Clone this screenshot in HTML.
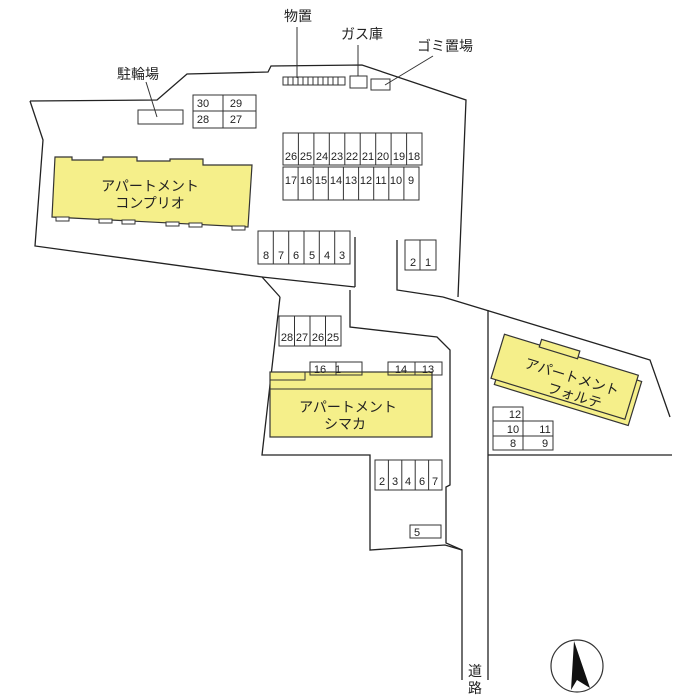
<!DOCTYPE html>
<html><head><meta charset="utf-8"><style>
html,body{margin:0;padding:0;background:#fff}
svg{display:block}
text{font-family:"Liberation Sans","Noto Sans CJK JP",sans-serif;fill:#222}
.n{font-size:11px;text-anchor:middle}
.l{font-size:14px;text-anchor:middle}
</style></head><body>
<svg width="700" height="700" viewBox="0 0 700 700" xmlns="http://www.w3.org/2000/svg">
<g fill="none" stroke="#222" stroke-width="1.3">
<!-- upper lot -->
<polyline points="355,287 355,237"/>
<polyline points="397,240 397,290 443,297"/>
<polyline points="30,101 157,100 187,74 268,72 271,66 362,65 466,100 458,297"/>
<polyline points="30,101 43,140 35,246 262,277 280,297"/>
<polyline points="262,277 355,287"/>
<!-- middle lot -->
<polyline points="280,297 262,455 370,455 370,550 445,545 462,550 462,680"/>
<polyline points="350,290 350,327 437,337 450,350 450,485 446,487 446,543 462,550"/>
<!-- right -->
<polyline points="443,297 650,360 670,417"/>
<line x1="488" y1="310" x2="488" y2="680"/>
<line x1="488" y1="455" x2="672" y2="455"/>
</g>
<!-- buildings -->
<polygon points="55,157 72,157 72,160 103,160 103,157 137,157 137,161 170,161 170,159 203,159 203,165 252,165 248,227 52,217" fill="#f5ef8a" stroke="#333" stroke-width="1.2"/>
<g fill="#fff" stroke="#333" stroke-width="1"><rect x="56" y="217" width="13" height="4"/><rect x="99" y="219" width="13" height="4"/><rect x="122" y="220" width="13" height="4"/><rect x="166" y="222" width="13" height="4"/><rect x="189" y="223" width="13" height="4"/><rect x="232" y="226" width="13" height="4"/></g>
<text x="150" y="191" class="l">アパートメント</text>
<text x="150" y="208" class="l">コンプリオ</text>
<rect x="270" y="372" width="162" height="65" fill="#f5ef8a" stroke="#333" stroke-width="1.2"/>
<line x1="270" y1="389" x2="432" y2="389" stroke="#333"/>
<polyline points="270,380 305,380 305,372" fill="none" stroke="#333"/>
<text x="348" y="412" class="l">アパートメント</text>
<text x="345" y="429" class="l">シマカ</text>
<g transform="translate(568,383) rotate(17)">
<rect x="-70" y="-23" width="140" height="46" fill="#f5ef8a" stroke="#333" stroke-width="1.2"/>
<rect x="-75" y="-28" width="140" height="46" fill="#f5ef8a" stroke="#333" stroke-width="1.2"/>
<rect x="-38" y="-34" width="40" height="8" fill="#f5ef8a" stroke="#333" stroke-width="1.2"/>
<text x="2" y="-2" class="l">アパートメント</text>
<text x="10" y="15" class="l">フォルテ</text>
</g>
<!-- parking -->
<g fill="none" stroke="#333" stroke-width="1">
<rect x="193" y="95" width="63" height="33"/><line x1="223" y1="95" x2="223" y2="128"/><line x1="193" y1="111" x2="256" y2="111"/>
<rect x="283" y="133" width="139" height="32"/>
<rect x="283" y="167" width="136" height="33"/>
<rect x="258" y="231" width="92" height="33"/>
<rect x="405" y="240" width="31" height="30"/><line x1="420" y1="240" x2="420" y2="270"/>
<rect x="279" y="316" width="62" height="30"/>
<rect x="310" y="362" width="52" height="13"/><line x1="336" y1="362" x2="336" y2="375"/>
<rect x="388" y="362" width="54" height="13"/><line x1="415" y1="362" x2="415" y2="375"/>
<rect x="375" y="460" width="67" height="30"/>
<rect x="410" y="525" width="31" height="13"/>
<rect x="493" y="407" width="30" height="14"/><rect x="493" y="421" width="60" height="29"/><line x1="523" y1="421" x2="523" y2="450"/><line x1="493" y1="436" x2="553" y2="436"/>
<rect x="138" y="110" width="45" height="14"/>
<rect x="283" y="77" width="62" height="8"/>
<rect x="350" y="76" width="17" height="12"/>
<rect x="371" y="79" width="19" height="11"/>
<line x1="146" y1="82" x2="157" y2="117"/>
<line x1="297" y1="27" x2="297" y2="78"/>
<line x1="358" y1="45" x2="358" y2="76"/>
<line x1="385" y1="85" x2="433" y2="56"/>
</g>
<g stroke="#333" stroke-width="1">
<line x1="298.4" y1="133" x2="298.4" y2="165"/><line x1="313.9" y1="133" x2="313.9" y2="165"/><line x1="329.3" y1="133" x2="329.3" y2="165"/><line x1="344.8" y1="133" x2="344.8" y2="165"/><line x1="360.2" y1="133" x2="360.2" y2="165"/><line x1="375.7" y1="133" x2="375.7" y2="165"/><line x1="391.1" y1="133" x2="391.1" y2="165"/><line x1="406.6" y1="133" x2="406.6" y2="165"/>
<line x1="298.1" y1="167" x2="298.1" y2="200"/><line x1="313.2" y1="167" x2="313.2" y2="200"/><line x1="328.3" y1="167" x2="328.3" y2="200"/><line x1="343.4" y1="167" x2="343.4" y2="200"/><line x1="358.6" y1="167" x2="358.6" y2="200"/><line x1="373.7" y1="167" x2="373.7" y2="200"/><line x1="388.8" y1="167" x2="388.8" y2="200"/><line x1="403.9" y1="167" x2="403.9" y2="200"/>
<line x1="273.3" y1="231" x2="273.3" y2="264"/><line x1="288.7" y1="231" x2="288.7" y2="264"/><line x1="304" y1="231" x2="304" y2="264"/><line x1="319.3" y1="231" x2="319.3" y2="264"/><line x1="334.7" y1="231" x2="334.7" y2="264"/>
<line x1="294.5" y1="316" x2="294.5" y2="346"/><line x1="310" y1="316" x2="310" y2="346"/><line x1="325.5" y1="316" x2="325.5" y2="346"/>
<line x1="388.4" y1="460" x2="388.4" y2="490"/><line x1="401.8" y1="460" x2="401.8" y2="490"/><line x1="415.2" y1="460" x2="415.2" y2="490"/><line x1="428.6" y1="460" x2="428.6" y2="490"/>
<line x1="288" y1="77" x2="288" y2="85"/><line x1="293" y1="77" x2="293" y2="85"/><line x1="298" y1="77" x2="298" y2="85"/><line x1="303" y1="77" x2="303" y2="85"/><line x1="308" y1="77" x2="308" y2="85"/><line x1="313" y1="77" x2="313" y2="85"/><line x1="318" y1="77" x2="318" y2="85"/><line x1="323" y1="77" x2="323" y2="85"/><line x1="328" y1="77" x2="328" y2="85"/><line x1="333" y1="77" x2="333" y2="85"/><line x1="338" y1="77" x2="338" y2="85"/>
</g>
<g class="n">
<text x="203" y="107" class="n">30</text><text x="236" y="107" class="n">29</text><text x="203" y="123" class="n">28</text><text x="236" y="123" class="n">27</text>
<text x="291" y="160" class="n">26</text><text x="306" y="160" class="n">25</text><text x="322" y="160" class="n">24</text><text x="337" y="160" class="n">23</text><text x="352" y="160" class="n">22</text><text x="368" y="160" class="n">21</text><text x="383" y="160" class="n">20</text><text x="399" y="160" class="n">19</text><text x="414" y="160" class="n">18</text>
<text x="291" y="184" class="n">17</text><text x="306" y="184" class="n">16</text><text x="321" y="184" class="n">15</text><text x="336" y="184" class="n">14</text><text x="351" y="184" class="n">13</text><text x="366" y="184" class="n">12</text><text x="381" y="184" class="n">11</text><text x="396" y="184" class="n">10</text><text x="411" y="184" class="n">9</text>
<text x="266" y="259" class="n">8</text><text x="281" y="259" class="n">7</text><text x="296" y="259" class="n">6</text><text x="312" y="259" class="n">5</text><text x="327" y="259" class="n">4</text><text x="342" y="259" class="n">3</text>
<text x="413" y="266" class="n">2</text><text x="428" y="266" class="n">1</text>
<text x="287" y="341" class="n">28</text><text x="302" y="341" class="n">27</text><text x="318" y="341" class="n">26</text><text x="333" y="341" class="n">25</text>
<text x="320" y="373" class="n">16</text><text x="338" y="373" class="n">1</text><text x="401" y="373" class="n">14</text><text x="428" y="373" class="n">13</text>
<text x="382" y="485" class="n">2</text><text x="395" y="485" class="n">3</text><text x="408" y="485" class="n">4</text><text x="422" y="485" class="n">6</text><text x="435" y="485" class="n">7</text>
<text x="417" y="536" class="n">5</text>
<text x="515" y="418" class="n">12</text><text x="513" y="433" class="n">10</text><text x="545" y="433" class="n">11</text><text x="513" y="447" class="n">8</text><text x="545" y="447" class="n">9</text>
</g>
<text x="298" y="21" class="l">物置</text>
<text x="362" y="39" class="l">ガス庫</text>
<text x="445" y="51" class="l">ゴミ置場</text>
<text x="138" y="79" class="l">駐輪場</text>
<text x="475" y="676" class="l">道</text>
<text x="475" y="693" class="l">路</text>
<circle cx="577" cy="666" r="26" fill="none" stroke="#333" stroke-width="1.2"/>
<polygon points="574,641 590,688 577,680 571,690" fill="#111"/>
</svg>
</body></html>
